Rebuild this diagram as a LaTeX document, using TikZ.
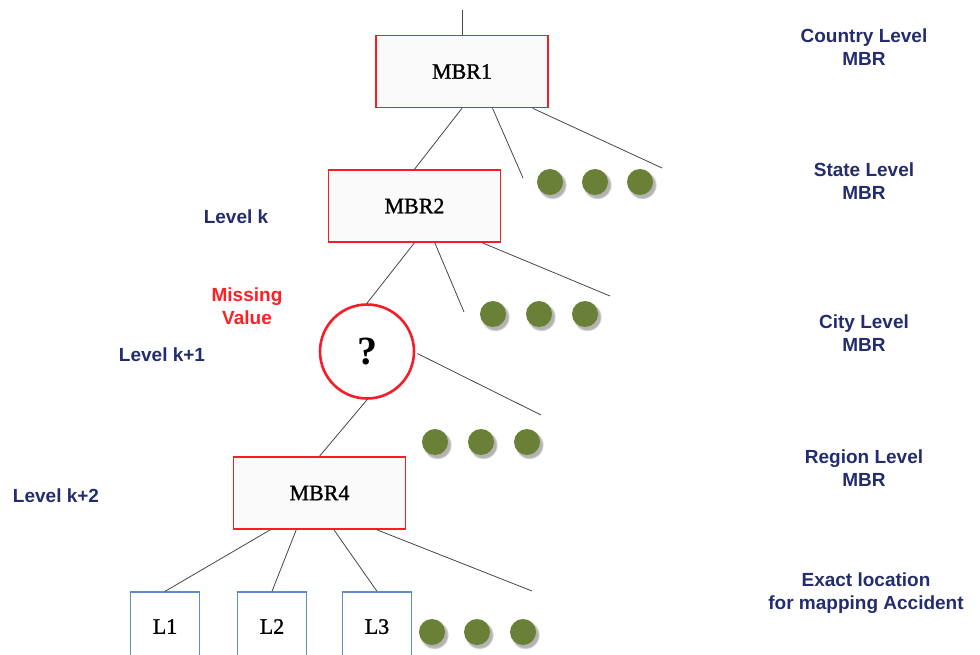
\documentclass[tikz,border=0pt]{standalone}
\usepackage{fontspec}
\setmainfont{Liberation Serif}
\newfontfamily\boxfont[FakeBold=1.2]{Liberation Serif}
\newfontfamily\labfont{Liberation Sans}
\usetikzlibrary{calc,shadows}
\definecolor{boxred}{RGB}{245,30,40}
\definecolor{navy}{RGB}{35,45,110}
\definecolor{missred}{RGB}{255,30,35}
\definecolor{lblue}{RGB}{95,140,205}
\definecolor{olive}{RGB}{107,128,55}
\definecolor{boxfill}{RGB}{250,250,250}
\definecolor{wire}{RGB}{70,70,70}
\tikzset{
  mbrbox/.style={draw=boxred, line width=1.5pt, fill=boxfill, minimum width=172pt, minimum height=72pt, inner sep=0pt, font=\boxfont\fontsize{22}{24}\selectfont},
  qcircle/.style={circle, draw=boxred, line width=2.6pt, fill=white, minimum size=94pt, inner sep=0pt, font=\fontsize{40}{42}\selectfont\bfseries},
  leafbox/.style={draw=lblue, line width=1.3pt, fill=white, minimum width=69pt, minimum height=76pt, inner sep=0pt, font=\boxfont\fontsize{22}{24}\selectfont},
  dot/.style={circle, fill=olive, minimum size=26pt, inner sep=0pt, circular drop shadow={shadow xshift=2pt, shadow yshift=-2.5pt, shadow scale=1.12, opacity=0.6}},
  wireline/.style={draw=wire, line width=0.8pt},
  levellab/.style={font=\labfont\bfseries\fontsize{19}{23}\selectfont, text=navy, align=center, inner sep=0pt},
  misslab/.style={font=\labfont\bfseries\fontsize{19}{23}\selectfont, text=missred, align=center, inner sep=0pt},
}
\begin{document}
\begin{tikzpicture}[x=1pt, y=-1pt]
\useasboundingbox (0,0) rectangle (980,655);
\clip (0,0) rectangle (980,655);

% main nodes
\node[mbrbox] (mbr1) at (462,71.5) {MBR1};
\node[mbrbox] (mbr2) at (414.5,206) {MBR2};
\node[qcircle] (q) at (367,351.5) {?};
\node[mbrbox] (mbr4) at (319.5,493) {MBR4};
\node[leafbox] (l1) at (165,630) {\raisebox{7pt}{L1}};
\node[leafbox] (l2) at (272,630) {\raisebox{7pt}{L2}};
\node[leafbox] (l3) at (377,630) {\raisebox{7pt}{L3}};

% dots
\node[dot] (d11) at (550,182) {};
\node[dot] (d12) at (595,182) {};
\node[dot] (d13) at (640,182) {};
\node[dot] (d21) at (493,314) {};
\node[dot] (d22) at (539,314) {};
\node[dot] (d23) at (585,314) {};
\node[dot] (d31) at (435,442) {};
\node[dot] (d32) at (481,442) {};
\node[dot] (d33) at (527,442) {};
\node[dot] (d41) at (432,632) {};
\node[dot] (d42) at (477,632) {};
\node[dot] (d43) at (523,632) {};

% free ends
\coordinate (top) at (462,10);
\coordinate (e1a) at (523,178);
\coordinate (e1b) at (662,168);
\coordinate (e2a) at (464,312);
\coordinate (e2b) at (610,296);
\coordinate (e3) at (541,415);
\coordinate (e4) at (532,591);

% connectors
\draw[wireline] (top) -- (mbr1.north);
\draw[wireline] (mbr1.south) -- (mbr2.north);
\draw[wireline] ($(mbr1.south west)!0.676!(mbr1.south east)$) -- (e1a);
\draw[wireline] ($(mbr1.south west)!0.907!(mbr1.south east)$) -- (e1b);
\draw[wireline] (mbr2.south) -- (q.north);
\draw[wireline] ($(mbr2.south west)!0.617!(mbr2.south east)$) -- (e2a);
\draw[wireline] ($(mbr2.south west)!0.89!(mbr2.south east)$) -- (e2b);
\draw[wireline] ($(q.east)+(2,2)$) -- (e3);
\draw[wireline] (q.south) -- (mbr4.north);
\draw[wireline] ($(mbr4.south west)!0.217!(mbr4.south east)$) -- (l1.north);
\draw[wireline] ($(mbr4.south west)!0.366!(mbr4.south east)$) -- (l2.north);
\draw[wireline] ($(mbr4.south west)!0.583!(mbr4.south east)$) -- (l3.north);
\draw[wireline] ($(mbr4.south west)!0.83!(mbr4.south east)$) -- (e4);

% left labels
\node[levellab] (lk) at (236,217) {Level k};
\node[misslab] (miss) at (247,306.5) {Missing\\Value};
\node[levellab] (lk1) at (162,355) {Level k+1};
\node[levellab] (lk2) at (56,496) {Level k+2};

% right labels
\node[levellab] (rc) at (864,47) {Country Level\\MBR};
\node[levellab] (rs) at (864,181) {State Level\\MBR};
\node[levellab] (rci) at (864,333.5) {City Level\\MBR};
\node[levellab] (rr) at (864,468.5) {Region Level\\MBR};
\node[levellab] (re) at (866,593.5) {Exact location\\for mapping Accident};
\end{tikzpicture}
\end{document}
